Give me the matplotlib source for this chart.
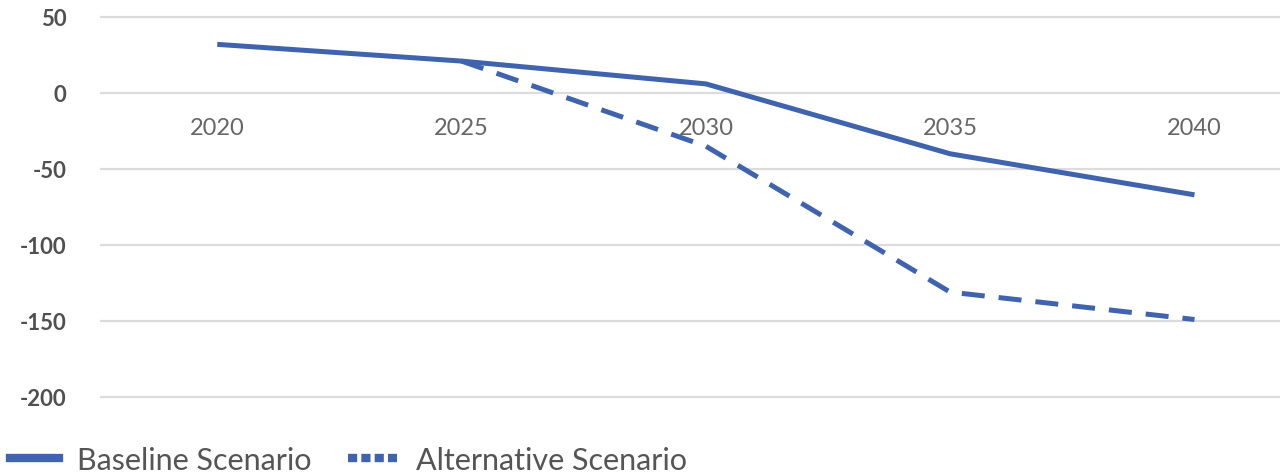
import matplotlib
matplotlib.use("Agg")
import matplotlib.pyplot as plt
from matplotlib.lines import Line2D
import numpy as np

years = ["2020", "2025", "2030", "2035", "2040"]
baseline = [32, 21, 6, -40, -67]
alternative = [np.nan, 21, -35, -131, -149]
y_ticks = [50, 0, -50, -100, -150, -200]

BLUE = "#3f63ad"
GRID = "#dcdcdc"

plt.rcParams["font.family"] = ["Lato", "DejaVu Sans"]

fig = plt.figure(figsize=(12.8, 4.77), dpi=100)
ax = fig.add_axes([100 / 1280, 1 - 413.2 / 477, 1180 / 1280, (413.2 - 10.4) / 477])

# move the x axis onto the zero line before styling its labels
ax.spines["bottom"].set_position(("data", 0))
for s in ax.spines.values():
    s.set_visible(False)

x = np.arange(len(years))
ax.plot(x, baseline, color=BLUE, lw=3.6, solid_capstyle="butt", zorder=3)
ax.plot(x, alternative, color=BLUE, lw=3.6, dashes=(4.6, 2.8), dash_capstyle="butt", zorder=3)

ax.set_xlim(-0.48, 4.35)
ax.set_ylim(-210, 55)
ax.set_yticks(y_ticks)
ax.set_yticklabels([str(v) for v in y_ticks], fontsize=16, color="#505050", fontweight="bold")
ax.tick_params(axis="y", length=0, pad=24)
ax.yaxis.grid(True, color=GRID, lw=1.6)
ax.set_axisbelow(True)

ax.set_xticks(x)
ax.set_xticklabels(years, fontsize=17, color="#666666")
ax.tick_params(axis="x", length=0, pad=17)

handles = [
    Line2D([], [], color=BLUE, lw=6),
    Line2D([], [], color=BLUE, lw=6, dashes=(1.1, 0.5), dash_capstyle="butt"),
]
fig.legend(handles, ["Baseline Scenario", "Alternative Scenario"],
           loc="center left", bbox_to_anchor=(10 / 1280, 16 / 477),
           ncol=2, frameon=False, fontsize=22, labelcolor="#555555",
           handlelength=1.6, handletextpad=0.6, columnspacing=1.2,
           borderpad=0, borderaxespad=0)

fig.savefig("out.png", dpi=100)
